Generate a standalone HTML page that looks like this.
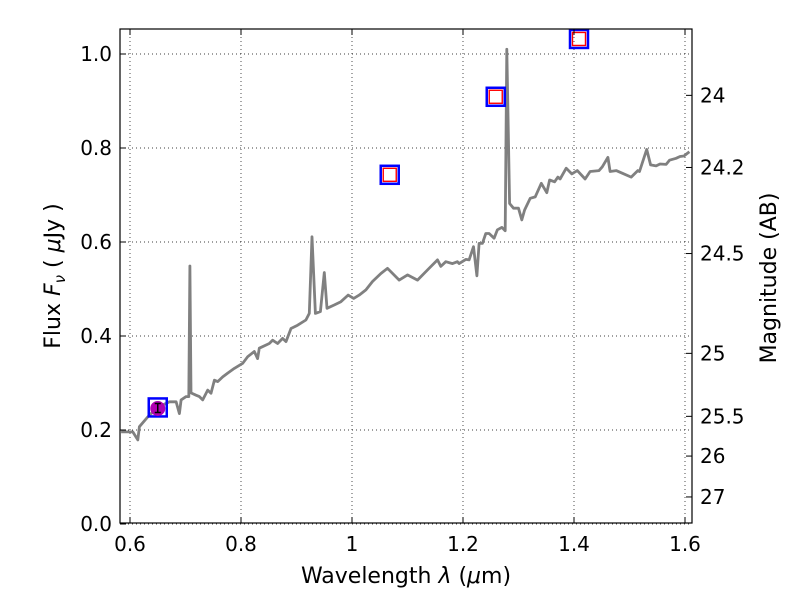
<!DOCTYPE html>
<html><head><meta charset="utf-8"><style>
body{margin:0;background:#fff;}
svg text{font-family:"DejaVu Sans","Liberation Sans",sans-serif;fill:#000;}
</style></head><body>
<svg id="chart" width="800" height="600" xmlns="http://www.w3.org/2000/svg">
<g id="grid"></g>
<g id="spec"></g>
<g id="phot"></g>
<rect x="120" y="29" width="572" height="494" fill="none" stroke="#000" stroke-width="1.2"/>
<g id="axes"></g>
<text x="406" y="583" font-size="22" text-anchor="middle">Wavelength  <tspan font-style="italic">λ</tspan> (<tspan font-style="italic">μ</tspan>m)</text>
<text transform="translate(60,276) rotate(-90)" font-size="22" text-anchor="middle">Flux  <tspan font-style="italic">F</tspan><tspan font-style="italic" font-size="15" dy="5">ν</tspan><tspan dy="-5">  ( </tspan><tspan font-style="italic">μ</tspan>Jy )</text>
<text transform="translate(776,278) rotate(-90)" font-size="22" text-anchor="middle">Magnitude (AB)</text>
</svg>
<script>
const specWave=[0.584,0.605,0.614,0.617,0.635,0.653,0.671,0.683,0.689,0.692,0.701,0.706,0.708,0.710,0.719,0.725,0.731,0.740,0.746,0.752,0.758,0.767,0.776,0.788,0.803,0.812,0.824,0.830,0.833,0.851,0.857,0.866,0.875,0.881,0.890,0.902,0.917,0.923,0.928,0.934,0.943,0.950,0.955,0.968,0.980,0.993,1.003,1.013,1.025,1.037,1.052,1.064,1.085,1.100,1.118,1.139,1.154,1.160,1.169,1.181,1.190,1.193,1.205,1.211,1.219,1.225,1.229,1.235,1.241,1.247,1.256,1.262,1.270,1.276,1.279,1.284,1.291,1.300,1.306,1.311,1.321,1.330,1.341,1.351,1.356,1.365,1.371,1.375,1.386,1.396,1.406,1.420,1.429,1.445,1.451,1.461,1.465,1.476,1.488,1.503,1.515,1.518,1.531,1.538,1.548,1.555,1.566,1.572,1.584,1.591,1.598,1.608];
const specFlux=[0.196,0.196,0.179,0.207,0.232,0.250,0.260,0.260,0.235,0.264,0.271,0.271,0.549,0.279,0.274,0.271,0.264,0.285,0.278,0.306,0.303,0.313,0.321,0.331,0.342,0.356,0.367,0.352,0.374,0.384,0.391,0.384,0.395,0.388,0.416,0.423,0.434,0.448,0.611,0.448,0.452,0.535,0.459,0.466,0.473,0.487,0.480,0.487,0.498,0.516,0.533,0.544,0.519,0.530,0.519,0.544,0.562,0.548,0.558,0.554,0.558,0.554,0.563,0.562,0.590,0.528,0.597,0.597,0.618,0.618,0.608,0.626,0.631,0.624,1.010,0.682,0.672,0.672,0.647,0.668,0.693,0.696,0.725,0.705,0.732,0.728,0.738,0.734,0.757,0.745,0.752,0.734,0.750,0.752,0.760,0.780,0.750,0.752,0.746,0.738,0.752,0.750,0.797,0.764,0.762,0.766,0.765,0.774,0.778,0.782,0.783,0.792];
const photWave=[0.650,1.068,1.259,1.409];
const photFlux=[0.248,0.743,0.909,1.032];
const xTicks=[0.6,0.8,1.0,1.2,1.4,1.6];
const xTickLabels=["0.6","0.8","1","1.2","1.4","1.6"];
const yTicks=[0,0.2,0.4,0.6,0.8,1.0];
const yTickLabels=["0.0","0.2","0.4","0.6","0.8","1.0"];
const magTicks=[24,24.2,24.5,25,25.5,26,27];
const magTickLabels=["24","24.2","24.5","25","25.5","26","27"];
const NS="http://www.w3.org/2000/svg";
const X=l=>130+(l-0.6)*555;
const Y=f=>524-f*470;
const magToY=m=>Y(Math.pow(10,(23.9-m)/2.5));
function mk(tag,parent,attrs){const e=document.createElementNS(NS,tag);for(const k in attrs)e.setAttribute(k,attrs[k]);parent.appendChild(e);return e;}
const grid=document.getElementById('grid'),axes=document.getElementById('axes');
xTicks.forEach((t,i)=>{
 const g=mk('line',grid,{x1:X(t),x2:X(t),y1:29,y2:523,stroke:'#000','stroke-width':0.7,'stroke-dasharray':'1,3'});
 
 
 mk('line',axes,{x1:X(t),x2:X(t),y1:523,y2:517,stroke:'#000'});
 mk('line',axes,{x1:X(t),x2:X(t),y1:29,y2:35,stroke:'#000'});
 const tx=mk('text',axes,{x:X(t),y:551,'font-size':20,'text-anchor':'middle'});
 tx.textContent=xTickLabels[i];
 
 
});
yTicks.forEach((t,i)=>{
 const g=mk('line',grid,{x1:120,x2:692,y1:Y(t),y2:Y(t),stroke:'#000','stroke-width':0.7,'stroke-dasharray':'1,3'});
 
 
 mk('line',axes,{x1:120,x2:126,y1:Y(t),y2:Y(t),stroke:'#000'});
 const tx=mk('text',axes,{x:112,y:Y(t)+7,'font-size':20,'text-anchor':'end'});
 tx.textContent=yTickLabels[i];
 
 
});
magTicks.forEach((m,i)=>{
 const y=magToY(m);
 mk('line',axes,{x1:686,x2:692,y1:y,y2:y,stroke:'#000'});
 const tx=mk('text',axes,{x:700,y:y+7,'font-size':20});
 tx.textContent=magTickLabels[i];
 
 
});
const pts=specWave.map((w,i)=>X(w).toFixed(1)+','+Y(specFlux[i]).toFixed(1)).join(' ');
const line=mk('polyline',document.getElementById('spec'),{points:pts,fill:'none',stroke:'#808080','stroke-width':2.8,'stroke-linejoin':'round'});


const phot=document.getElementById('phot');
photWave.forEach((w,i)=>{
 const x=X(w),y=Y(photFlux[i]);
 const b=mk('rect',phot,{x:x-9,y:y-9,width:18,height:18,fill:'none',stroke:'#0000ff','stroke-width':2.5});
 
 
 if(i===0){
  const c=mk('circle',phot,{cx:x,cy:y+1,r:7.5,fill:'#b000b0'});
  
  
  mk('path',phot,{d:`M${x-3} ${y-4}H${x+3}M${x} ${y-4}V${y+5}M${x-3} ${y+5}H${x+3}`,stroke:'#000','stroke-width':1.5,fill:'none'});
 } else {
  const r=mk('rect',phot,{x:x-6.5,y:y-6.5,width:13,height:13,fill:'none',stroke:'#ff0000','stroke-width':1.4});
  
  
 }
});
</script>
</body></html>
